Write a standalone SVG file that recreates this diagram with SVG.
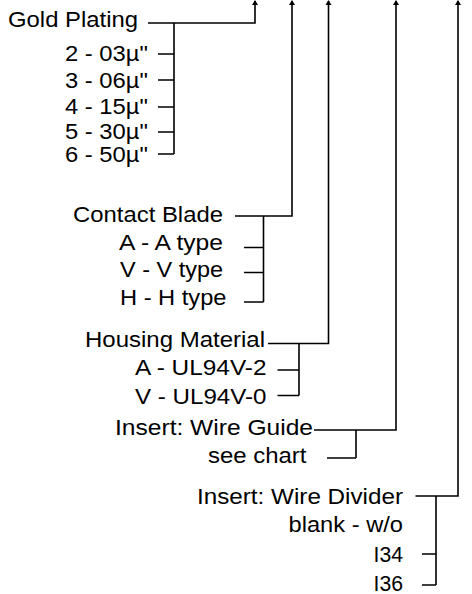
<svg xmlns="http://www.w3.org/2000/svg" width="472" height="594" viewBox="0 0 472 594">
<defs>
<style>
text{font-family:"Liberation Sans",Arial,sans-serif;font-size:22px;fill:#000}
.ln{fill:none;stroke:#000;stroke-width:1.6}
</style>
</defs>
<rect width="472" height="594" fill="#fff"/>
<g id="connectors">
<path class="ln" d="M148,23 H255 V1"/>
<path class="ln" d="M158,54 H174 M158,80 H174 M158,107 H174 M158,132 H174 M158,154 H174 M174,23 V154"/>
<path class="ln" d="M235,216 H292 V1"/>
<path class="ln" d="M244,247.5 H263.5 M244,272.5 H263.5 M244,302 H263.5 M263.5,216 V302"/>
<path class="ln" d="M268,343.5 H328.5 V1"/>
<path class="ln" d="M277.5,370 H299 M277.5,395.5 H299 M299,343.5 V395.5"/>
<path class="ln" d="M314,430 H396 V1"/>
<path class="ln" d="M327,458 H356 M356,430 V458"/>
<path class="ln" d="M415.5,496 H458 V1"/>
<path class="ln" d="M422,554 H436 M422,585 H436 M436,496 V585"/>
<g fill="#000">
<path d="M252,5 L255,0 L258,5 Z"/>
<path d="M289,5 L292,0 L295,5 Z"/>
<path d="M325.5,5 L328.5,0 L331.5,5 Z"/>
<path d="M393,5 L396,0 L399,5 Z"/>
<path d="M455,5 L458,0 L461,5 Z"/>
</g>
</g>
<g id="gold-plating">
<text x="8" y="27" textLength="130" lengthAdjust="spacingAndGlyphs">Gold Plating</text>
<text x="65" y="61" textLength="83" lengthAdjust="spacingAndGlyphs">2 - 03µ"</text>
<text x="65" y="87.5" textLength="83" lengthAdjust="spacingAndGlyphs">3 - 06µ"</text>
<text x="65" y="114" textLength="83" lengthAdjust="spacingAndGlyphs">4 - 15µ"</text>
<text x="65" y="138.5" textLength="83" lengthAdjust="spacingAndGlyphs">5 - 30µ"</text>
<text x="65" y="161.5" textLength="83" lengthAdjust="spacingAndGlyphs">6 - 50µ"</text>
</g>
<g id="contact-blade">
<text x="73" y="222" textLength="150" lengthAdjust="spacingAndGlyphs">Contact Blade</text>
<text x="119" y="250" textLength="104" lengthAdjust="spacingAndGlyphs">A - A type</text>
<text x="120" y="277" textLength="103" lengthAdjust="spacingAndGlyphs">V - V type</text>
<text x="120" y="305" textLength="106.5" lengthAdjust="spacingAndGlyphs">H - H type</text>
</g>
<g id="housing-material">
<text x="85" y="347" textLength="180" lengthAdjust="spacingAndGlyphs">Housing Material</text>
<text x="135" y="375" textLength="131.5" lengthAdjust="spacingAndGlyphs">A - UL94V-2</text>
<text x="135" y="404" textLength="131.5" lengthAdjust="spacingAndGlyphs">V - UL94V-0</text>
</g>
<g id="wire-guide">
<text x="115" y="435" textLength="198" lengthAdjust="spacingAndGlyphs">Insert: Wire Guide</text>
<text x="208" y="463" textLength="98.5" lengthAdjust="spacingAndGlyphs">see chart</text>
</g>
<g id="wire-divider">
<text x="197" y="504" textLength="206" lengthAdjust="spacingAndGlyphs">Insert: Wire Divider</text>
<text x="288.5" y="532" textLength="114.5" lengthAdjust="spacingAndGlyphs">blank - w/o</text>
<text x="373.5" y="562" textLength="29.5" lengthAdjust="spacingAndGlyphs">I34</text>
<text x="373.5" y="591" textLength="29.5" lengthAdjust="spacingAndGlyphs">I36</text>
</g>
</svg>
